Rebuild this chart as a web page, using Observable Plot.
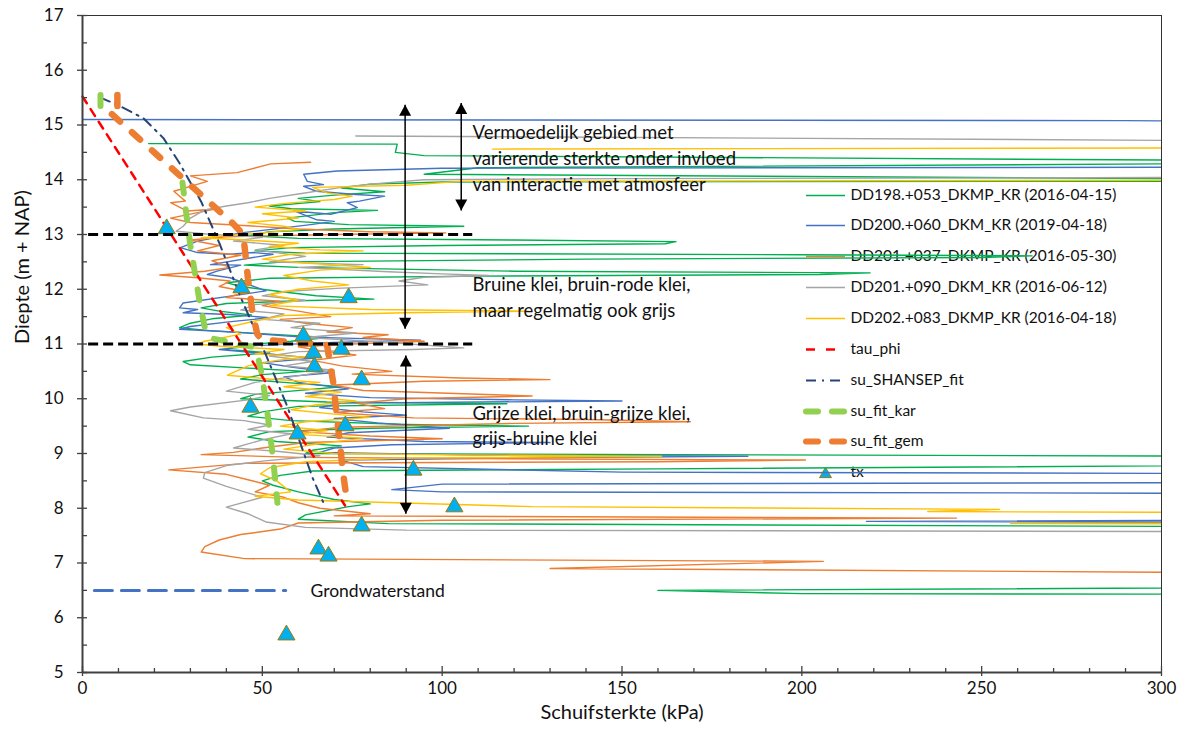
<!DOCTYPE html>
<html><head><meta charset="utf-8">
<script src="https://cdn.jsdelivr.net/npm/d3@7"></script>
<script src="https://cdn.jsdelivr.net/npm/@observablehq/plot@0.6"></script>
<style>body{margin:0;background:#fff;}#chart{width:1191px;height:738px;}</style>
</head><body><div id="chart"></div>
<script>
// ---------------- DATA ----------------
const seriesNames = [
  "DD198.+053_DKMP_KR (2016-04-15)",
  "DD200.+060_DKM_KR (2019-04-18)",
  "DD201.+037_DKMP_KR (2016-05-30)",
  "DD201.+090_DKM_KR (2016-06-12)",
  "DD202.+083_DKMP_KR (2016-04-18)"
];
// [shear strength kPa, depth m+NAP]
const dd198 = [[18.4,14.66],[87.5,14.65],[87,14.5],[95,14.44],[300,14.36],[420,14.35],[420,14.29],[300,14.29],[110,14.22],[95,14.1],[300,14.02],[420,14.01],[420,13.98],[100,13.96],[80,13.92],[72,13.85],[84,13.78],[70,13.72],[60,13.66],[66,13.6],[52,13.52],[58,13.47],[82,13.44],[70,13.4],[57,13.3],[59,13.24],[74,13.18],[106,13.15],[70,13.1],[52,13.05],[46,12.98],[60,12.93],[120,12.9],[165,12.87],[162,12.83],[100,12.8],[58,12.76],[48,12.7],[62,12.66],[200,12.63],[264,12.61],[250,12.58],[140,12.55],[56,12.5],[45,12.44],[60,12.4],[120,12.33],[219,12.3],[205,12.27],[110,12.24],[52,12.2],[40,12.12],[44,12.05],[56,11.95],[65,11.88],[81,11.82],[60,11.79],[40,11.74],[33,11.66],[38,11.6],[47,11.53],[36,11.46],[30,11.38],[27,11.3],[36,11.24],[52,11.18],[68,11.12],[58,11.05],[44,10.98],[40,10.9],[52,10.84],[36,10.76],[28,10.68],[30,10.62],[46,10.56],[62,10.5],[50,10.44],[44,10.36],[56,10.3],[72,10.22],[58,10.14],[48,10.08],[44,10.0],[68,9.94],[118,9.91],[60,9.86],[50,9.76],[46,9.68],[58,9.6],[90,9.53],[124,9.5],[80,9.46],[52,9.4],[46,9.3],[54,9.22],[72,9.14],[64,9.06],[62,9.0],[420,8.93],[420,8.82],[160,8.72],[64,8.68],[55,8.6],[50,8.5],[53,8.42],[60,8.3],[70,8.16],[80,8.08],[74,8.03],[62,7.88],[60,7.8],[85,7.72],[420,7.64],[420,6.58],[160,6.5],[200,6.44],[420,6.42]];
const dd200 = [[0,15.1],[290,15.08],[420,15.03],[420,14.24],[100,14.21],[70.8,14.16],[61.5,14.1],[62.5,13.97],[67,13.91],[61.5,13.88],[65,13.79],[76,13.73],[84,13.7],[77,13.61],[73.6,13.58],[76.4,13.49],[69,13.37],[58.8,13.43],[65,13.27],[70,13.24],[63.4,13.18],[56,13.12],[44,13.03],[32,12.88],[27.2,12.76],[32,12.67],[41,12.64],[47.6,12.67],[53,12.64],[35.6,12.45],[44,12.44],[37.4,12.33],[34.7,12.27],[41,12.21],[51,11.97],[28,11.75],[27,11.66],[32,11.63],[28,11.57],[41,11.54],[52,11.48],[40,11.4],[30,11.32],[27,11.27],[42,11.22],[60,11.13],[94,11.07],[70,11.03],[48,10.97],[38,10.9],[52,10.82],[64,10.74],[50,10.66],[58,10.58],[70,10.48],[56,10.4],[60,10.3],[74,10.18],[62,10.1],[80,10.02],[120,9.98],[150,9.96],[72,9.92],[66,9.84],[78,9.76],[90,9.7],[70,9.64],[82,9.56],[102,9.46],[74,9.38],[68,9.3],[95,9.22],[130,9.2],[86,9.16],[70,9.1],[66,9.02],[110,8.97],[185,8.95],[120,8.92],[72,8.88],[78,8.76],[150,8.66],[420,8.62],[420,8.48],[100,8.44],[86,8.34],[100,8.3],[420,8.26],[420,7.8],[218,7.76],[420,7.72]];
const dd201a = [[63.4,14.32],[52.3,14.29],[43,14.13],[30,14.07],[34.7,13.97],[25.4,13.79],[28.6,13.61],[24.5,13.58],[29,13.43],[36.5,13.46],[24.5,13.3],[30,13.22],[46,13.16],[60,13.1],[80,13.05],[101,13.03],[70,13.0],[40,12.96],[30,12.9],[38,12.8],[32,12.7],[44,12.62],[36,12.52],[41,12.4],[34,12.33],[21.5,12.26],[32,12.21],[41,12.15],[38,12.05],[46,11.95],[40,11.85],[55,11.78],[50,11.7],[60,11.6],[69,11.5],[55,11.45],[62,11.38],[75,11.3],[68,11.22],[85,11.17],[78,11.12],[95,11.05],[75,11.0],[60,10.95],[66,10.88],[76,10.8],[64,10.7],[72,10.6],[86,10.5],[75,10.45],[105,10.38],[130,10.35],[95,10.32],[70,10.25],[78,10.15],[125,10.05],[90,10.0],[76,9.92],[84,9.82],[70,9.75],[92,9.65],[140,9.62],[169,9.58],[120,9.55],[72,9.48],[60,9.4],[80,9.32],[100,9.27],[62,9.2],[50,9.1],[42,9.02],[33,8.98],[60,8.93],[130,8.9],[201,8.88],[160,8.85],[45,8.82],[24,8.7],[40,8.62],[46,8.52],[52,8.42],[48,8.3],[56,8.2],[60,8.1],[66,8.0],[80,7.9],[70,7.86],[243,7.82],[100,7.78],[60,7.73],[55,7.62],[44,7.52],[38,7.42],[34,7.3],[33,7.2],[45,7.08],[206,7.03],[130,6.9],[420,6.78]];
const dd201b = [[76,14.8],[300,14.72],[420,14.68],[420,14.05],[300,14.04],[150,14.02],[95,14.0],[80,13.92],[72,13.86],[60,13.74],[52,13.66],[46,13.58],[40,13.52],[34,13.45],[30,13.3],[28,13.15],[26,13.06],[36,13.0],[50,12.95],[42,12.88],[56,12.8],[48,12.72],[62,12.6],[52,12.5],[78,12.45],[60,12.4],[85,12.32],[100,12.28],[113,12.25],[95,12.22],[88,12.15],[96,12.08],[72,12.02],[56,11.96],[50,11.88],[62,11.8],[48,11.72],[44,11.62],[56,11.55],[50,11.45],[66,11.38],[58,11.3],[76,11.2],[62,11.12],[80,11.05],[106,10.93],[92,10.9],[60,10.86],[52,10.78],[64,10.68],[56,10.6],[70,10.52],[62,10.44],[48,10.3],[40,10.14],[52,10.06],[46,9.98],[30,9.85],[24.5,9.78],[33.6,9.65],[45,9.6],[52,9.52],[46,9.44],[58,9.36],[50,9.25],[42,9.1],[54,9.04],[66,8.96],[50,8.86],[40,8.78],[34,8.65],[33.6,8.55],[40,8.4],[50,8.2],[40,8.02],[46,7.9],[51,7.75],[62,7.65],[90,7.6],[420,7.56]];
const dd202 = [[114,14.56],[300,14.58],[420,14.6],[420,14.0],[300,13.99],[105,13.97],[90,13.9],[64,13.86],[68,13.76],[75,13.7],[70,13.64],[62,13.6],[55,13.56],[48,13.5],[62,13.43],[50,13.38],[60,13.3],[46,13.22],[56,13.15],[60,13.09],[48,13.02],[33,12.94],[45,12.9],[60,12.84],[52,12.78],[66,12.72],[78,12.7],[58,12.64],[50,12.55],[62,12.48],[80,12.4],[66,12.35],[56,12.25],[64,12.15],[74,12.08],[60,12.0],[52,11.9],[60,11.8],[52,11.7],[80,11.63],[124,11.6],[90,11.57],[56,11.52],[48,11.42],[40,11.3],[44,11.18],[34,11.05],[32,11.0],[40,10.95],[56,10.9],[48,10.82],[62,10.76],[54,10.7],[46,10.6],[40.3,10.43],[52,10.36],[66,10.3],[56,10.22],[72,10.12],[62,10.04],[76,9.96],[64,9.88],[58,9.8],[70,9.72],[80,9.66],[62,9.58],[55,9.5],[68,9.42],[60,9.35],[78,9.28],[66,9.18],[56,9.08],[70,9.0],[110,8.97],[161,8.95],[90,8.92],[62,8.85],[52,8.74],[49.5,8.63],[54,8.5],[57.8,8.3],[48,8.22],[60,8.15],[125,8.03],[255,7.98],[235,7.94],[420,7.9],[420,7.74],[258,7.72],[420,7.69]];

const tauPhi = [[0,15.52],[73,8.05]];
const suShansep = [[5,15.5],[10,15.36],[17,15.12],[22.5,14.76],[27,14.3],[33,13.6],[38,12.85],[44,11.85],[51,10.8],[57,9.85],[64,8.55],[67,8.1]];
const suFitKar = [[5,15.55],[5,15.28],[null,null],[27.8,13.95],[29,13.3],[30,12.8],[31,12.4],[32.5,11.8],[34,11.3],[36,11.1],[40,11.05],[47,10.95],[49,10.7],[50,10.4],[51.5,9.7],[53,8.9],[54.2,8.1]];
const suFitGem = [[9.7,15.55],[9.7,15.3],[7.3,15.25],[42,13.19],[44.7,13.0],[46,12.2],[47.2,11.6],[48.6,11.18],[50,11.08],[68,10.98],[69.7,10.3],[70.5,9.8],[71.2,9.4],[72.5,8.62],[73.6,8.1]];

const txSu    = [23.4,44.2,74.0,61.4,64.2,72.0,64.5,77.6,46.7,59.8,73.1,92.0,103.4,77.6,65.6,68.4,56.7];
const txDepth = [13.15,12.07,11.89,11.19,10.88,10.95,10.63,10.39,9.89,9.40,9.55,8.74,8.07,7.72,7.30,7.17,5.73];

const extraNames = ["tau_phi","su_SHANSEP_fit","su_fit_kar","su_fit_gem","tx"];
const grondwater = [[3.3,6.5],[56.5,6.5]];
const layerBounds = [13, 11];
const layerBoundX = [1.7, 108.5];
// arrows: [su, top depth, bottom depth]
const arrows = [[89.7,15.37,11.28],[105.3,15.4,13.44],[89.9,10.79,7.9]];

const notes = ["Vermoedelijk gebied met","varierende sterkte onder invloed","van interactie met atmosfeer",
  "Bruine klei, bruin-rode klei,","maar regelmatig ook grijs",
  "Grijze klei, bruin-grijze klei,","grijs-bruine klei"];
const gwLabel = "Grondwaterstand";

const yTicks = d3.range(5, 18, 1);
const yMinor = d3.range(5.5, 17, 1);
const xTicks = d3.range(0, 301, 50);
const xMinor = d3.range(10, 300, 10).filter(v => v % 50 !== 0);

// ---------------- LAYOUT ----------------
const W = 1191, H = 738, mL = 82, mR = 30, mT = 15, mB = 66;
const plotW = W - mL - mR, plotH = H - mT - mB;
const pxToSu = px => (px - mL) / plotW * 300;
const pxToDepth = py => 17 - (py - mT) / plotH * 12;
const FONT = "Lato, 'Noto Sans', sans-serif";
const colors = ["#00B050","#4472C4","#ED7D31","#A5A5A5","#FFC000"];
const series = [dd198, dd200, dd201a, dd201b, dd202];
const axisColor = "#404040";

const triSym = {draw(ctx, size){ const r = Math.sqrt(size/Math.PI); const w = r*1.3, h = r*1.12;
  ctx.moveTo(0,-h); ctx.lineTo(w,h); ctx.lineTo(-w,h); ctx.closePath(); }};
const headUp = {draw(ctx){ ctx.moveTo(0,0); ctx.lineTo(6,11); ctx.lineTo(-6,11); ctx.closePath(); }};
const headDown = {draw(ctx){ ctx.moveTo(0,0); ctx.lineTo(6,-11); ctx.lineTo(-6,-11); ctx.closePath(); }};

const styles = {
  tau: {stroke:"#FF0000", strokeWidth:2.5, strokeDasharray:"8,7"},
  shansep: {stroke:"#264478", strokeWidth:2, strokeDasharray:"10,6,2,6"},
  kar: {stroke:"#92D050", strokeWidth:6, strokeDasharray:"11,16", strokeLinecap:"round"},
  gem: {stroke:"#ED7D31", strokeWidth:6.5, strokeDasharray:"11,16", strokeLinecap:"round"}
};
const XY = {x: d => d[0], y: d => d[1]};

const marks = [];
// legend (under the data, like the reference)
const legendY = [195,225,256,287,318,349,380,411,441,472];
const legendLabels = seriesNames.concat(extraNames);
const legendSw = [
  ...colors.map(c => ({stroke:c, strokeWidth:1.5})),
  {...styles.tau, strokeDasharray:"9,11"}, styles.shansep,
  {...styles.kar, strokeDasharray:"12,14"}, {...styles.gem, strokeWidth:6, strokeDasharray:"12,14"}
];
legendLabels.forEach((lab, i) => {
  marks.push(Plot.text([lab], {frameAnchor:"top-left", dx: 850 - mL, dy: legendY[i] - mT, text: d => d,
    textAnchor:"start", lineAnchor:"middle", fontSize:15.5, fill:"#111", fontFamily: FONT}));
  if (i < 9) marks.push(Plot.ruleY([pxToDepth(legendY[i])], {insetLeft: 806 - mL, insetRight: mL + plotW - 845, ...legendSw[i]}));
});
marks.push(Plot.dot([[pxToSu(825), pxToDepth(472)]], {...XY, symbol: triSym, r: 4.6, fill:"#00B0F0", stroke:"#A07A00", strokeWidth:1}));

// CPT traces
series.forEach((s, i) => marks.push(Plot.line(s, {...XY, stroke: colors[i], strokeWidth: 1.4, clip: true})));
marks.push(Plot.line(tauPhi, {...XY, ...styles.tau}));
marks.push(Plot.line(suShansep, {...XY, ...styles.shansep}));
marks.push(Plot.line(suFitKar, {...XY, ...styles.kar}));
marks.push(Plot.line(suFitGem, {...XY, ...styles.gem}));
marks.push(Plot.dot(txSu.map((v, i) => [v, txDepth[i]]), {...XY, symbol: triSym, r: 6.6, fill:"#00B0F0", stroke:"#A07A00", strokeWidth:1}));

// annotations
marks.push(Plot.line(grondwater, {...XY, stroke:"#4472C4", strokeWidth:3, strokeDasharray:"18,9"}));
marks.push(Plot.ruleY(layerBounds, {x1: layerBoundX[0], x2: layerBoundX[1], stroke:"#000", strokeWidth:3, strokeDasharray:"10,5"}));
marks.push(Plot.link(arrows, {x1: d => d[0], x2: d => d[0], y1: d => d[1], y2: d => d[2], stroke:"#000", strokeWidth:1.5}));
marks.push(Plot.dot(arrows, {x: d => d[0], y: d => d[1], symbol: headUp, r: 5, fill:"#000"}));
marks.push(Plot.dot(arrows, {x: d => d[0], y: d => d[2], symbol: headDown, r: 5, fill:"#000"}));
const noteY = [133,159,185,285,311,414,439];
notes.forEach((t, i) => marks.push(Plot.text([t], {frameAnchor:"top-left", dx: 472 - mL, dy: noteY[i] - mT, text: d => d,
  textAnchor:"start", lineAnchor:"middle", fontSize:18.5, fill:"#111", fontFamily: FONT})));
marks.push(Plot.text([gwLabel], {frameAnchor:"top-left", dx: 310 - mL, dy: 591 - mT, text: d => d,
  textAnchor:"start", lineAnchor:"middle", fontSize:17.5, fill:"#111", fontFamily: FONT}));

// frame, axes, ticks
marks.push(Plot.frame({stroke:"#000", strokeWidth:0.8}));
marks.push(Plot.ruleX([0], {stroke: axisColor, strokeWidth: 2}));
marks.push(Plot.ruleY([5], {stroke: axisColor, strokeWidth: 2}));
marks.push(Plot.ruleY(yTicks, {insetLeft: -5, insetRight: plotW - 5, stroke: axisColor, strokeWidth: 1.3}));
marks.push(Plot.ruleY(yMinor, {insetRight: plotW - 5, stroke: axisColor, strokeWidth: 1.3}));
marks.push(Plot.ruleX(xTicks, {insetTop: plotH - 6, insetBottom: -4, stroke: axisColor, strokeWidth: 1.3}));
marks.push(Plot.ruleX(xMinor, {insetTop: plotH - 4, stroke: axisColor, strokeWidth: 1.3}));
marks.push(Plot.axisY({ticks: yTicks, tickSize: 0, tickPadding: 19, label: null, fontSize: 17, fill:"#111"}));
marks.push(Plot.axisX({ticks: xTicks, tickSize: 0, tickPadding: 9, label: null, fontSize: 17, fill:"#111"}));
marks.push(Plot.text(["Diepte (m + NAP)"], {frameAnchor:"left", dx: -60, rotate: -90, text: d => d, fontSize: 20, fill:"#111", fontFamily: FONT}));
marks.push(Plot.text(["Schuifsterkte (kPa)"], {frameAnchor:"bottom", dy: 46, text: d => d, fontSize: 20, fill:"#111", fontFamily: FONT}));

const chart = Plot.plot({
  width: W, height: H, marginLeft: mL, marginRight: mR, marginTop: mT, marginBottom: mB,
  x: {domain: [0, 300]}, y: {domain: [5, 17]},
  style: {fontFamily: FONT, fontSize: "17px", color: "#111", background: "#fff"},
  marks
});
document.getElementById("chart").append(chart);
</script>
</body></html>
